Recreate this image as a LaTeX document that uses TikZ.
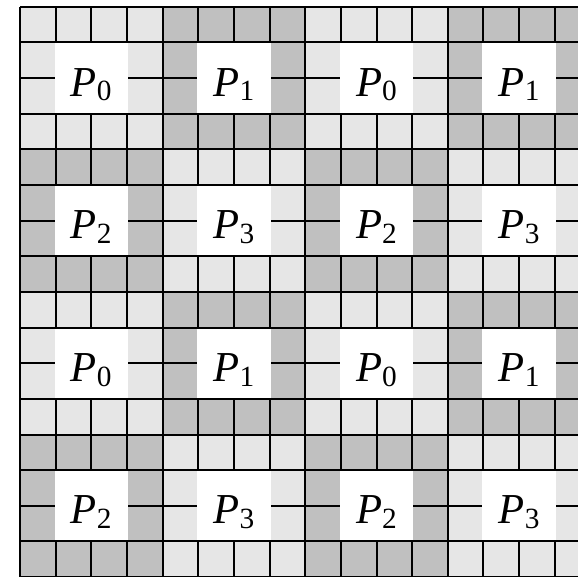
\documentclass[tikz,border=0pt]{standalone}
\usepackage{fontspec}
\setmainfont{Liberation Serif}
\definecolor{lightc}{HTML}{E6E6E6}
\definecolor{darkc}{HTML}{C0C0C0}
\begin{document}
\begin{tikzpicture}[x=0.75pt,y=-0.75pt,
  gridline/.style={line width=1.5pt,black},
  lbl/.style={anchor=base,inner sep=0pt,font=\fontsize{32}{32}\selectfont}]
\useasboundingbox (0,0) rectangle (578,576);
\fill[white] (0,0) rectangle (578,576);
\begin{scope}
\clip (0,0) rectangle (578,576);
\def\ox{20}\def\oy{6.7}\def\cs{35.65}
\foreach \bi in {0,...,3}{
  \foreach \bj in {0,...,3}{
    \pgfmathtruncatemacro\s{mod(\bi+\bj,2)}
    \ifnum\s=0 \def\blkcol{lightc}\else\def\blkcol{darkc}\fi
    \fill[\blkcol] ({\ox+4*\bj*\cs},{\oy+4*\bi*\cs}) rectangle ({\ox+(4*\bj+4)*\cs},{\oy+(4*\bi+4)*\cs});
  }
}
\foreach \i in {0,...,16}{
  \draw[gridline] ({\ox+\i*\cs},\oy) -- ({\ox+\i*\cs},{\oy+16*\cs});
  \draw[gridline] (\ox,{\oy+\i*\cs}) -- ({\ox+16*\cs},{\oy+\i*\cs});
}
\foreach \bi in {0,...,3}{
  \foreach \bj in {0,...,3}{
    \fill[white] ({\ox+(4*\bj+1)*\cs-1.1},{\oy+(4*\bi+1)*\cs+1}) rectangle ({\ox+(4*\bj+3)*\cs+1.1},{\oy+(4*\bi+3)*\cs-1});
    \pgfmathtruncatemacro\k{2*mod(\bi,2)+mod(\bj,2)}
    \node[lbl] (l\bi\bj) at ({\ox+(4*\bj+2)*\cs},{\oy+(4*\bi+2)*\cs+18}) {\textit{P}\raisebox{-3.6pt}{\fontsize{22}{22}\selectfont\k}};
  }
}
\end{scope}
\end{tikzpicture}
\end{document}
